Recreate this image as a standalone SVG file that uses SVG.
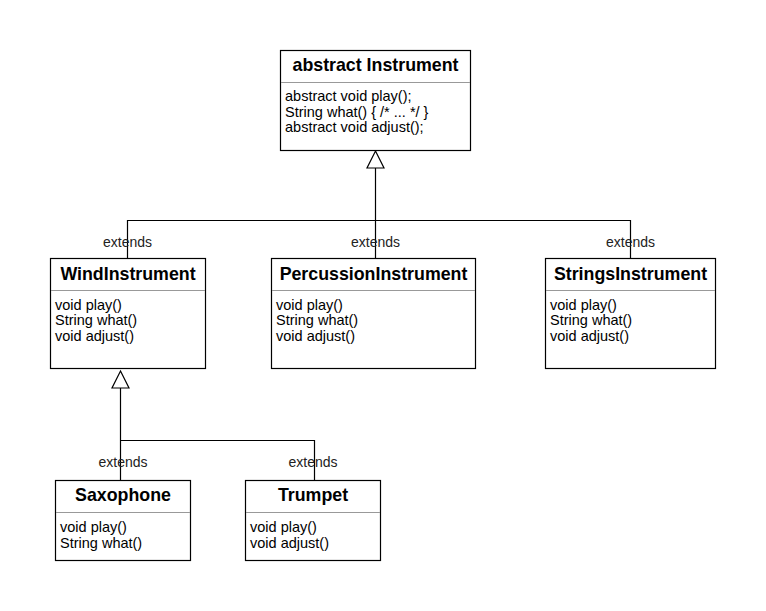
<svg xmlns="http://www.w3.org/2000/svg" width="766" height="611" viewBox="0 0 766 611">
<style>
.box{fill:#fff;stroke:#000;stroke-width:1.2}
.div{stroke:#999;stroke-width:1}
.title{font-family:"Liberation Sans",Arial,sans-serif;font-weight:bold;font-size:17.8px;text-anchor:middle;fill:#000}
.mem{font-family:"Liberation Sans",Arial,sans-serif;font-size:14.5px;fill:#000}
.lbl{font-family:"Liberation Sans",Arial,sans-serif;font-size:14px;text-anchor:middle;fill:#222}
.edge{fill:none;stroke:#000;stroke-width:1.2}
.tri{fill:#fff;stroke:#000;stroke-width:1.2}
</style>
<rect width="766" height="611" fill="#fff"/>
<g id="connectors">
<path class="edge" d="M375.5 168 V220.5 M127.5 258 V220.5 H630.5 V258 M375.5 220.5 V258"/>
<path class="tri" d="M375.5 151 L384 168 L367 168 Z"/>
<text class="lbl" x="127.5" y="246.5">extends</text>
<text class="lbl" x="375.5" y="246.5">extends</text>
<text class="lbl" x="630.5" y="246.5">extends</text>
<path class="edge" d="M120.5 388 V480 M120.5 440.5 H314.5 V480"/>
<path class="tri" d="M120.5 371 L129 388 L112 388 Z"/>
<text class="lbl" x="123" y="466.5">extends</text>
<text class="lbl" x="313" y="466.5">extends</text>
</g>
<g id="Instrument">
<rect class="box" x="280.5" y="50.5" width="190" height="100"/>
<line class="div" x1="281" y1="82.5" x2="470" y2="82.5"/>
<text class="title" x="375.5" y="71">abstract Instrument</text>
<text class="mem" x="285" y="101">abstract void play();</text>
<text class="mem" x="285" y="116.5">String what() { /* ... */ }</text>
<text class="mem" x="285" y="132">abstract void adjust();</text>
</g>
<g id="WindInstrument">
<rect class="box" x="50.5" y="258.5" width="155" height="110"/>
<line class="div" x1="51" y1="290.5" x2="205" y2="290.5"/>
<text class="title" x="128" y="280">WindInstrument</text>
<text class="mem" x="55" y="309.5">void play()</text>
<text class="mem" x="55" y="325">String what()</text>
<text class="mem" x="55" y="340.5">void adjust()</text>
</g>
<g id="PercussionInstrument">
<rect class="box" x="271.5" y="258.5" width="204" height="110"/>
<line class="div" x1="272" y1="290.5" x2="475" y2="290.5"/>
<text class="title" x="373.5" y="280">PercussionInstrument</text>
<text class="mem" x="276" y="309.5">void play()</text>
<text class="mem" x="276" y="325">String what()</text>
<text class="mem" x="276" y="340.5">void adjust()</text>
</g>
<g id="StringsInstrument">
<rect class="box" x="545.5" y="258.5" width="170" height="110"/>
<line class="div" x1="546" y1="290.5" x2="715" y2="290.5"/>
<text class="title" x="630.5" y="280">StringsInstrument</text>
<text class="mem" x="550" y="309.5">void play()</text>
<text class="mem" x="550" y="325">String what()</text>
<text class="mem" x="550" y="340.5">void adjust()</text>
</g>
<g id="Saxophone">
<rect class="box" x="55.5" y="480.5" width="135" height="80"/>
<line class="div" x1="56" y1="512.5" x2="190" y2="512.5"/>
<text class="title" x="123" y="500.5">Saxophone</text>
<text class="mem" x="60" y="532">void play()</text>
<text class="mem" x="60" y="547.5">String what()</text>
</g>
<g id="Trumpet">
<rect class="box" x="245.5" y="480.5" width="135" height="80"/>
<line class="div" x1="246" y1="512.5" x2="380" y2="512.5"/>
<text class="title" x="313" y="500.5">Trumpet</text>
<text class="mem" x="250" y="532">void play()</text>
<text class="mem" x="250" y="547.5">void adjust()</text>
</g>
</svg>
